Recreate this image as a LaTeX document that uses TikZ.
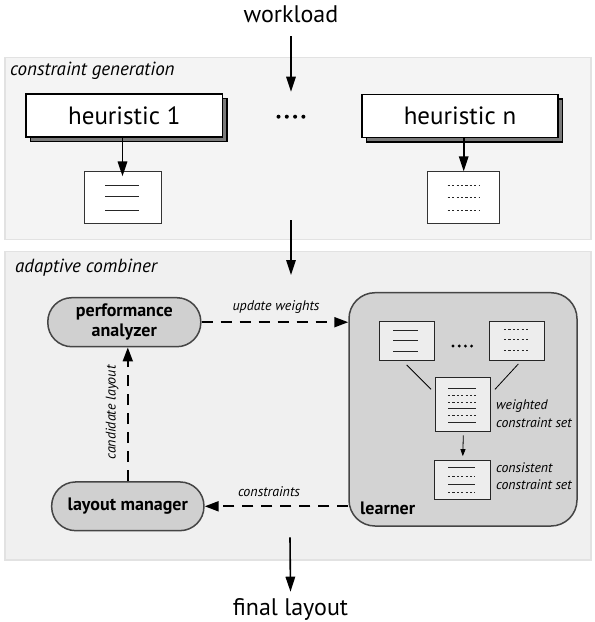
\documentclass[tikz,border=0pt]{standalone}
\usepackage{fontspec}
\setmainfont{PT Sans}
\usetikzlibrary{arrows.meta}
\definecolor{panelA}{HTML}{F4F4F4}
\definecolor{panelB}{HTML}{F0F0F0}
\definecolor{panelLine}{HTML}{E2E2E2}
\definecolor{nodeFill}{HTML}{D0D0D0}
\definecolor{nodeLine}{HTML}{454545}
\definecolor{learnFill}{HTML}{D3D3D3}
\definecolor{docFill}{HTML}{EDEDED}
\definecolor{shadowFill}{HTML}{7A7A7A}
\begin{document}
\begin{tikzpicture}[x=1pt,y=-1pt,
  panel/.style={draw=panelLine, line width=1.4pt, inner sep=0pt},
  hbox/.style={draw=black, fill=white, line width=1.8pt, minimum width=196.5pt, minimum height=43pt, inner sep=0pt, font=\fontsize{25}{28}\selectfont},
  hshadow/.style={draw=black, fill=shadowFill, line width=1.2pt, minimum width=196.5pt, minimum height=43pt, inner sep=0pt},
  doc/.style={draw=black!80, fill=white, line width=0.8pt, inner sep=0pt},
  ldoc/.style={draw=black!85, fill=docFill, line width=1pt, minimum width=55pt, minimum height=39pt, inner sep=0pt},
  rline/.style={line width=0.9pt, black!85},
  dline/.style={line width=1pt, black!85, dash pattern=on 2.2pt off 2.2pt},
  proc/.style={draw=nodeLine, fill=nodeFill, line width=1.5pt, rounded corners=24pt, minimum width=153pt, minimum height=49pt, inner sep=0pt, align=center, font=\bfseries\fontsize{18}{19.6}\selectfont},
  bigtext/.style={font=\fontsize{24}{28}\selectfont, inner sep=0pt},
  paneltext/.style={font=\itshape\fontsize{19}{22}\selectfont, inner sep=0pt},
  smalltext/.style={font=\itshape\fontsize{14}{16}\selectfont, inner sep=0pt},
  sidetext/.style={font=\itshape\fontsize{13.8}{17.3}\selectfont, inner sep=0pt, align=left, anchor=west},
  arr/.style={line width=1.6pt, -{Triangle[length=15pt,width=9.5pt]}},
  darr/.style={line width=2pt, dash pattern=on 11pt off 8pt, -{Triangle[length=14pt,width=10pt]}},
  thinarr/.style={line width=0.8pt, -{Triangle[length=7pt,width=5pt]}}
]
\path[use as bounding box] (0,0) rectangle (595,622);

% panels
\node[panel, fill=panelA, minimum width=586pt, minimum height=181.6pt] (genpanel) at (298,148.5) {};
\node[panel, fill=panelB, minimum width=586pt, minimum height=308.3pt] (combpanel) at (298,405.85) {};
\node[paneltext, anchor=base west] (genlbl) at (10,75) {constraint generation};
\node[paneltext, anchor=base west] (comblbl) at (15,272) {adaptive combiner};

% workload
\node[bigtext, anchor=base] (wl) at (291,22.7) {workload};
\coordinate (wlEnd) at (291,91.7);
\draw[arr] ([yshift=-13.3pt]wl.base) -- (wlEnd);

% heuristics
\node[hshadow] (h1s) at (128.8,119.8) {};
\node[hbox] (h1) at (124.3,115.3) {heuristic 1};
\node[hshadow] (hns) at (464.5,120.5) {};
\node[hbox] (hn) at (460,116) {heuristic n};
\foreach \i in {0,...,3} \fill (278.5+\i*8.3,116.7) circle (2pt);

% constraint docs
\node[doc, minimum width=77pt, minimum height=52.3pt] (d1) at (122.5,197.2) {};
\foreach \y in {185,196.7,210.7} \draw[rline] (105,\y) -- (139.3,\y);
\node[doc, minimum width=72pt, minimum height=51.6pt] (dn) at (463.7,197.5) {};
\foreach \y in {185,197.7,210.7} \draw[dline] (447.7,\y) -- (479,\y);
\draw[arr] (h1.south -| d1.north) -- ([yshift=-5.7pt]d1.north);
\draw[arr] (hn.south -| dn.north) -- (dn.north);

% between panels
\coordinate (midA) at (291,220);
\coordinate (midB) at (291,275);
\draw[arr] (midA) -- (midB);

% combiner
\node[proc] (pa) at (124.3,322.2) {performance\\analyzer};
\node[proc, minimum width=152.3pt, minimum height=48.7pt] (lm) at (127.8,506.3) {layout manager};
\node[draw=nodeLine, fill=learnFill, line width=1.5pt, rounded corners=26pt, minimum width=228pt, minimum height=233.3pt, inner sep=0pt] (learner) at (463,409.35) {};
\node[font=\bfseries\fontsize{18}{20}\selectfont, anchor=west, inner sep=0pt] (lt) at (360,508.3) {learner};

\draw[darr] (lm.north) -- (lm.north |- pa.south);
\node[smalltext, rotate=90] (cl) at (112,412.5) {candidate layout};
\draw[darr] (pa.east) -- (pa.east -| learner.west);
\node[smalltext] (uw) at (276,306.7) {update weights};
\draw[darr] (learner.west |- lm.east) -- (lm.east);
\node[smalltext] (cs) at (269,491.7) {constraints};

% learner contents
\node[ldoc] (la) at (406.5,341.2) {};
\foreach \y in {330,340.7,351.3} \draw[rline] (393,\y) -- (418,\y);
\node[ldoc] (lb) at (516.5,340.5) {};
\foreach \y in {329.3,339.3,350} \draw[dline] (504,\y) -- (530,\y);
\foreach \i in {0,...,3} \fill (453+\i*6.2,346) circle (1.6pt);
\node[ldoc, minimum width=55.3pt, minimum height=53.7pt] (lc) at (463.3,404.8) {};
\foreach \y in {388.3,408.3,422.3} \draw[rline] (448,\y) -- (475.7,\y);
\foreach \y in {395.7,402,415.7} \draw[dline] (448,\y) -- (475.7,\y);
\node[ldoc, minimum width=55.7pt, minimum height=39.3pt] (ld) at (462.8,480.3) {};
\foreach \y in {467.3,484.3} \draw[rline] (448,\y) -- (475,\y);
\foreach \y in {476,492.7} \draw[dline] (448,\y) -- (475,\y);
\coordinate (la1) at (406.7,365);
\coordinate (lc1) at (431,389.3);
\coordinate (lb1) at (518.3,364);
\coordinate (lc2) at (495,389.3);
\draw[line width=0.8pt] (la1) -- (lc1);
\draw[line width=0.8pt] (lb1) -- (lc2);
\draw[thinarr] ([yshift=-3.3pt]lc.south) -- ([yshift=4pt]ld.north);
\node[sidetext] (wcs) at (496,413.6) {weighted\\constraint set};
\node[sidetext] (ccs) at (496,476.3) {consistent\\constraint set};

% final layout
\coordinate (finA) at (290,537.3);
\node[bigtext, anchor=base] (fl) at (290.5,615) {final layout};
\draw[arr] (finA) -- ([yshift=23.3pt]fl.base);
\end{tikzpicture}
\end{document}
